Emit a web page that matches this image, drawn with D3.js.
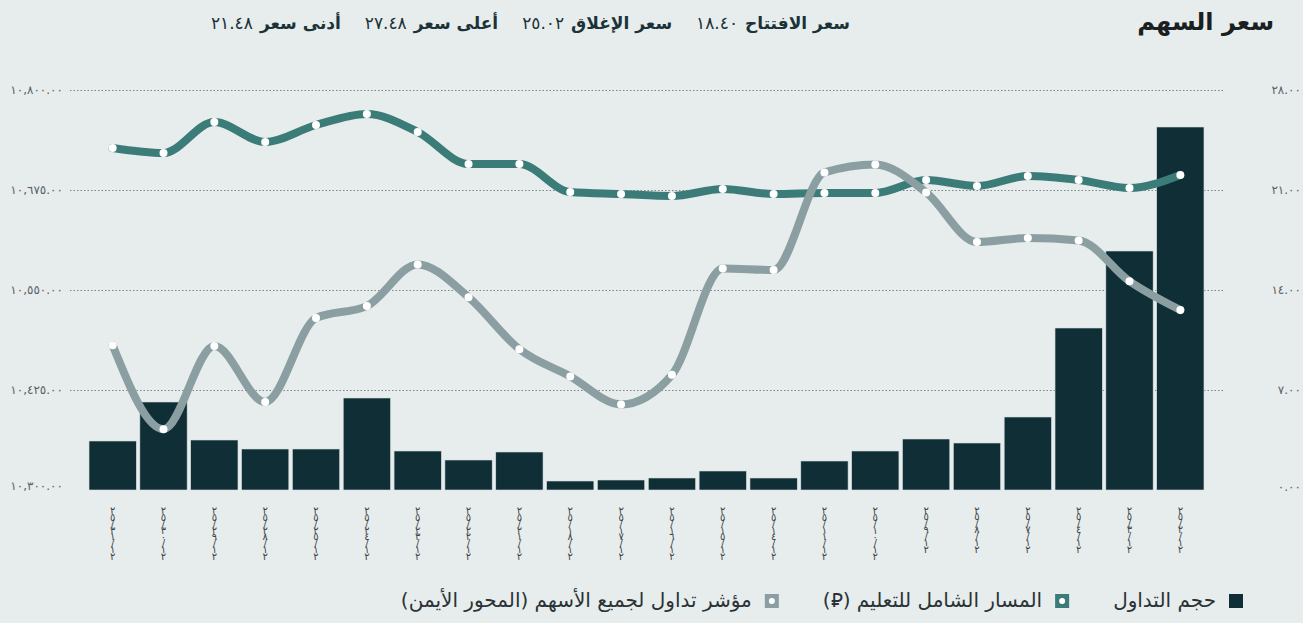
<!DOCTYPE html>
<html>
<head>
<meta charset="utf-8">
<script src="https://cdn.jsdelivr.net/npm/d3@7"></script>
<style>
  body { margin: 0; background: #e7ecec; }
  svg { display: block; font-family: "DejaVu Sans", sans-serif; }
</style>
</head>
<body>
<svg id="chart"></svg>
<script>
// Trading days, left to right as shown (latest first)
var dates = ["٢٥/٣١/١٢", "٢٥/٣٠/١٢", "٢٥/٢٩/١٢", "٢٥/٢٨/١٢", "٢٥/٢٥/١٢", "٢٥/٢٤/١٢",
  "٢٥/٢٣/١٢", "٢٥/٢٢/١٢", "٢٥/٢١/١٢", "٢٥/١٨/١٢", "٢٥/١٧/١٢", "٢٥/١٦/١٢",
  "٢٥/١٥/١٢", "٢٥/١٤/١٢", "٢٥/١١/١٢", "٢٥/١٠/١٢", "٢٥/٩/١٢", "٢٥/٨/١٢",
  "٢٥/٧/١٢", "٢٥/٤/١٢", "٢٥/٣/١٢", "٢٥/٢/١٢"];

// Trading volume (thousand shares, estimated)
var volume = [49, 88, 50, 41, 41, 92, 39, 30, 38, 9, 10, 12, 19, 12, 29, 39, 51, 47, 73, 162, 239, 363];

// Tadawul all share index (left axis)
var tasi = [10481, 10376, 10480, 10410, 10515, 10530, 10582, 10541, 10476, 10442, 10407,
  10444, 10577, 10575, 10697, 10707, 10672, 10610, 10615, 10612, 10561, 10525];

// Share price in SAR (right axis)
var price = [23.94, 23.59, 25.76, 24.36, 25.55, 26.32, 25.06, 22.82, 22.82, 20.86, 20.72,
  20.58, 21.07, 20.72, 20.79, 20.79, 21.70, 21.28, 21.98, 21.70, 21.14, 22.05];

var leftTicks = [10300, 10425, 10550, 10675, 10800];
var leftTickLabels = ["١٠,٣٠٠.٠٠", "١٠,٤٢٥.٠٠", "١٠,٥٥٠.٠٠", "١٠,٦٧٥.٠٠", "١٠,٨٠٠.٠٠"];
var rightTicks = [0, 7, 14, 21, 28];
var rightTickLabels = ["٠.٠٠", "٧.٠٠", "١٤.٠٠", "٢١.٠٠", "٢٨.٠٠"];

var statLabels = ["سعر الافتتاح", "سعر الإغلاق", "أعلى سعر", "أدنى سعر"];
var statValues = ["١٨.٤٠", "٢٥.٠٢", "٢٧.٤٨", "٢١.٤٨"];

var legendLabels = ["حجم التداول", "المسار الشامل للتعليم (\u20C1)", "مؤشر تداول لجميع الأسهم (المحور الأيمن)"];

var colors = { bar: "#0f2e36", price: "#3b7c79", index: "#8b9fa3", text: "#1b3238", axis: "#5a6266" };

var svgWidth = 1303;
var svgHeight = 623;

var svg = d3.select("#chart")
  .attr("width", svgWidth)
  .attr("height", svgHeight);

var plotTop = 90, plotBottom = 490;

var xScale = d3.scaleBand()
  .domain(dates)
  .range([88, 1205])
  .paddingInner(0.07)
  .paddingOuter(0.02);

var yLeft = d3.scaleLinear().domain([10300, 10800]).range([plotBottom, plotTop]);
var yRight = d3.scaleLinear().domain([0, 28]).range([plotBottom, plotTop]);
var yVol = d3.scaleLinear().domain([0, 400]).range([plotBottom, plotTop]);

// Grid lines (dotted)
svg.append("g")
  .selectAll("line")
  .data(leftTicks.slice(1))
  .join("line")
  .attr("x1", 70)
  .attr("x2", 1224)
  .attr("y1", d => Math.round(yLeft(d)) + 0.5)
  .attr("y2", d => Math.round(yLeft(d)) + 0.5)
  .attr("stroke", "#7d8386")
  .attr("stroke-width", 1)
  .attr("stroke-dasharray", "1.5,2");

// Left axis labels
svg.append("g")
  .selectAll("text")
  .data(leftTicks)
  .join("text")
  .attr("x", 63)
  .attr("y", (d, i) => yLeft(d) + (i === 0 ? 0 : 4))
  .attr("text-anchor", "end")
  .attr("font-size", 12)
  .attr("fill", colors.axis)
  .text((d, i) => leftTickLabels[i]);

// Right axis labels
svg.append("g")
  .selectAll("text")
  .data(rightTicks)
  .join("text")
  .attr("x", 1301)
  .attr("y", (d, i) => yRight(d) + (i === 0 ? 1 : 4))
  .attr("text-anchor", "end")
  .attr("font-size", 12)
  .attr("fill", colors.axis)
  .text((d, i) => rightTickLabels[i]);

// Volume bars
svg.append("g")
  .selectAll("rect")
  .data(volume)
  .join("rect")
  .attr("x", (d, i) => xScale(dates[i]))
  .attr("y", d => yVol(d))
  .attr("width", xScale.bandwidth())
  .attr("height", d => plotBottom - yVol(d))
  .attr("fill", colors.bar)
  .attr("stroke", "#d5dede")
  .attr("stroke-width", 0.6);

var cx = (d, i) => xScale(dates[i]) + xScale.bandwidth() / 2;

function drawSeries(values, yScale, color) {
  var line = d3.line()
    .x(cx)
    .y(d => yScale(d))
    .curve(d3.curveMonotoneX);

  svg.append("path")
    .datum(values)
    .attr("d", line)
    .attr("fill", "none")
    .attr("stroke", color)
    .attr("stroke-width", 8)
    .attr("stroke-linecap", "round")
    .attr("stroke-linejoin", "round");

  svg.append("g")
    .selectAll("circle")
    .data(values)
    .join("circle")
    .attr("cx", cx)
    .attr("cy", d => yScale(d))
    .attr("r", 4)
    .attr("fill", "#ffffff");
}

drawSeries(price, yRight, colors.price);
drawSeries(tasi, yLeft, colors.index);

// X labels: vertical text, glyphs upright, squeezed to the reference height
svg.append("g")
  .selectAll("text")
  .data(dates)
  .join("text")
  .attr("x", cx)
  .attr("y", 505)
  .attr("font-size", 10)
  .attr("fill", "#3d4548")
  .attr("textLength", d => Array.from(d).length * 7.1)
  .attr("lengthAdjust", "spacing")
  .style("writing-mode", "vertical-rl")
  .style("text-orientation", "upright")
  .text(d => d);

// Title
svg.append("text")
  .attr("x", 1274)
  .attr("y", 30)
  .attr("direction", "rtl")
  .attr("text-anchor", "start")
  .attr("font-size", 24)
  .attr("font-weight", "bold")
  .attr("fill", "#1a1f22")
  .text("سعر السهم");

// Header stats, laid out right to left
var hx = 850;
statLabels.forEach(function(lbl, i) {
  var a = svg.append("text")
    .attr("x", hx)
    .attr("y", 29)
    .attr("direction", "rtl")
    .attr("text-anchor", "start")
    .attr("font-size", 17)
    .attr("font-weight", "bold")
    .attr("fill", colors.text)
    .text(lbl);
  hx -= a.node().getComputedTextLength() + 7;
  var b = svg.append("text")
    .attr("x", hx)
    .attr("y", 29)
    .attr("text-anchor", "end")
    .attr("font-size", 17)
    .attr("fill", colors.text)
    .text(statValues[i]);
  hx -= b.node().getComputedTextLength() + 24;
});

// Legend
var legendColors = [colors.bar, colors.price, colors.index];
var lx = 1243;
legendLabels.forEach(function(lbl, i) {
  svg.append("rect")
    .attr("x", lx - 14)
    .attr("y", 594)
    .attr("width", 14)
    .attr("height", 14)
    .attr("fill", legendColors[i]);
  if (i > 0) {
    svg.append("circle")
      .attr("cx", lx - 7)
      .attr("cy", 601)
      .attr("r", 3)
      .attr("fill", "#ffffff");
  }
  var t = svg.append("text")
    .attr("x", lx - 14 - 13)
    .attr("y", 607)
    .attr("direction", "rtl")
    .attr("text-anchor", "start")
    .attr("font-size", 20)
    .attr("fill", "#2a3236")
    .text(lbl);
  lx = lx - 14 - 13 - t.node().getComputedTextLength() - 44;
});
</script>
</body>
</html>
